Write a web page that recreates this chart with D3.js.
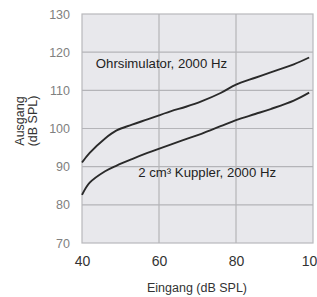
<!DOCTYPE html>
<html lang="de">
<head>
  <meta charset="UTF-8">
  <title>Ausgang vs Eingang</title>
  <script src="https://cdn.jsdelivr.net/npm/d3@7"></script>
  <style>
    body { margin: 0; background: #fff; }
    text { font-family: "Liberation Sans", Arial, sans-serif; }
  </style>
</head>
<body>
<svg class="chart"></svg>
<script>
  var svgWidth = 317;
  var svgHeight = 297;

  // data
  var eingang = [40, 42, 46, 49, 53, 57, 63, 67, 71, 76, 80, 85, 89, 95, 99];
  var ohrsimulator = [91.1, 93.6, 97.4, 99.5, 101, 102.4, 104.5, 105.7, 107.1, 109.3, 111.5, 113.3, 114.7, 116.8, 118.6];
  var kuppler = [82.6, 85.8, 88.8, 90.3, 92, 93.6, 95.8, 97.2, 98.6, 100.6, 102.2, 103.8, 105.1, 107.3, 109.4];
  var xTicks = [40, 60, 80, 100];
  var yTicks = [70, 80, 90, 100, 110, 120, 130];
  var labels = ['Ohrsimulator, 2000 Hz', '2 cm\u00b3 Kuppler, 2000 Hz'];

  var margin = {top: 14, right: 4, bottom: 54, left: 82};
  var w = svgWidth - margin.left - margin.right;
  var h = svgHeight - margin.top - margin.bottom;

  var x = d3.scaleLinear().domain([40, 100]).range([0, w]);
  var y = d3.scaleLinear().domain([70, 130]).range([h, 0]);

  var svg = d3.select('.chart')
    .attr('width', svgWidth)
    .attr('height', svgHeight);

  var g = svg.append('g')
    .attr('transform', 'translate(' + margin.left + ',' + margin.top + ')');

  g.append('rect')
    .attr('width', w)
    .attr('height', h)
    .attr('fill', '#e8e8ec')
    .attr('stroke', '#b8b8bc')
    .attr('stroke-width', 1.2);

  // grid
  g.selectAll('.hgrid')
    .data(yTicks.slice(1, -1))
    .enter().append('line')
    .attr('x1', 0).attr('x2', w)
    .attr('y1', function(d) { return y(d); })
    .attr('y2', function(d) { return y(d); })
    .attr('stroke', '#b4b4b8')
    .attr('stroke-width', 1.2);

  g.selectAll('.vgrid')
    .data(xTicks.slice(1, -1))
    .enter().append('line')
    .attr('y1', 0).attr('y2', h)
    .attr('x1', function(d) { return x(d); })
    .attr('x2', function(d) { return x(d); })
    .attr('stroke', '#b4b4b8')
    .attr('stroke-width', 1.2);

  // axes (labels only)
  var yAxis = d3.axisLeft(y).tickValues(yTicks).tickSize(0).tickPadding(12);
  var ya = g.append('g').call(yAxis);
  ya.select('.domain').remove();
  ya.selectAll('text')
    .attr('fill', '#808080')
    .style('font-size', '12.5px');

  var xAxis = d3.axisBottom(x).tickValues(xTicks).tickSize(0).tickPadding(13);
  var xa = g.append('g').attr('transform', 'translate(0,' + h + ')').call(xAxis);
  xa.select('.domain').remove();
  xa.selectAll('text')
    .attr('fill', '#333')
    .style('font-size', '14px');

  // curves
  var line = d3.line()
    .x(function(d) { return x(d[0]); })
    .y(function(d) { return y(d[1]); })
    .curve(d3.curveCatmullRom);

  [ohrsimulator, kuppler].forEach(function(s) {
    g.append('path')
      .datum(d3.zip(eingang, s))
      .attr('d', line)
      .attr('fill', 'none')
      .attr('stroke', '#2a2a2a')
      .attr('stroke-width', 1.9);
  });

  // annotations
  g.append('text')
    .attr('x', x(43.6))
    .attr('y', y(115.8))
    .attr('fill', '#222')
    .style('font-size', '13.2px')
    .text(labels[0]);

  g.append('text')
    .attr('x', x(54.6))
    .attr('y', y(87.2))
    .attr('fill', '#222')
    .style('font-size', '13.2px')
    .text(labels[1]);

  // axis titles
  svg.append('text')
    .attr('x', 197)
    .attr('y', 292)
    .attr('text-anchor', 'middle')
    .attr('fill', '#333')
    .style('font-size', '12.5px')
    .text('Eingang (dB SPL)');

  var yt = svg.append('text')
    .attr('transform', 'translate(24,121) rotate(-90)')
    .attr('text-anchor', 'middle')
    .attr('fill', '#333')
    .style('font-size', '12.5px');
  yt.append('tspan').attr('x', 0).attr('dy', 0).text('Ausgang');
  yt.append('tspan').attr('x', 0).attr('dy', 13).text('(dB SPL)');
</script>
</body>
</html>
